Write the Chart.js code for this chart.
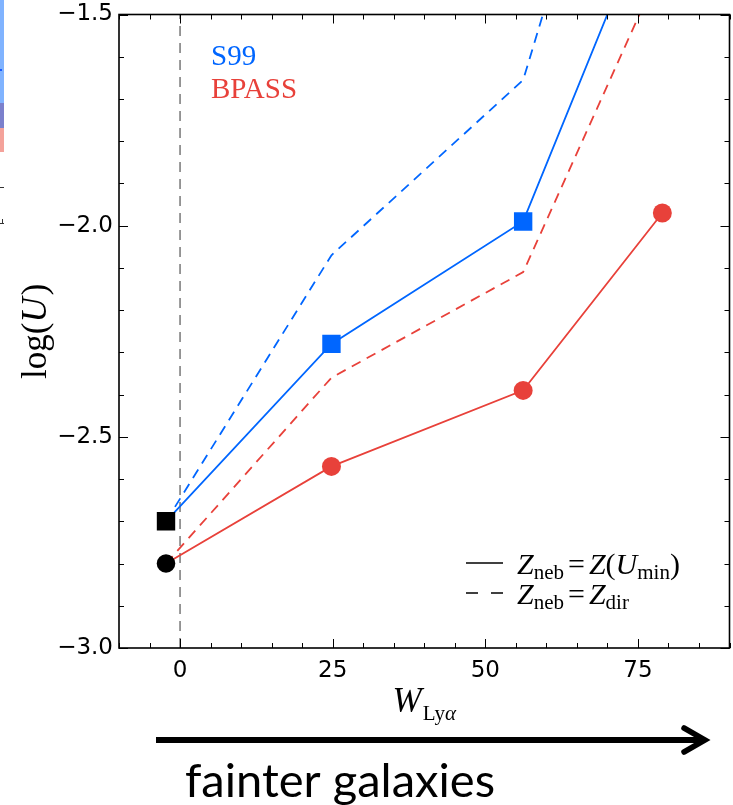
<!DOCTYPE html>
<html>
<head>
<meta charset="utf-8">
<script src="https://cdn.jsdelivr.net/npm/chart.js@4.4.1/dist/chart.umd.min.js"></script>
<style>
  html, body { margin: 0; padding: 0; background: #fff; }
  #wrap { position: relative; width: 733px; height: 805px; overflow: hidden; }
  .deco { position: absolute; }
</style>
</head>
<body>
<div id="wrap">
  <canvas id="c" width="733" height="805"></canvas>
  <!-- clipped neighbouring panel at the left edge -->
  <div class="deco" style="left:0;top:0;width:4px;height:103px;background:#80b3ff"></div>
  <div class="deco" style="left:0;top:69px;width:2px;height:2px;background:#1a5cff"></div>
  <div class="deco" style="left:0;top:103px;width:4px;height:25px;background:#7b80cc"></div>
  <div class="deco" style="left:0;top:128px;width:4px;height:24px;background:#f4a29a"></div>
  <div class="deco" style="left:0;top:187px;width:4px;height:1px;background:#333"></div>
  <div class="deco" style="left:0;top:223px;width:4px;height:1px;background:#333"></div>
  <div class="deco" style="left:2px;top:219px;width:1px;height:4px;background:#333"></div>
</div>
<script>
// ---------------- data ----------------
const xValues      = [-2.3, 24.8, 56.2, 79.0];      // W_Lya
const s99Solid     = [-2.70, -2.28, -1.99, -1.18];  // Z_neb = Z(U_min)
const s99Dashed    = [-2.70, -2.07, -1.655, -0.565];// Z_neb = Z_dir
const bpassSolid   = [-2.80, -2.57, -2.39, -1.97];
const bpassDashed  = [-2.80, -2.36, -2.11, -1.38];
const refX         = [-2.3];
const refS99       = [-2.70];
const refBpass     = [-2.80];
const zeroLineY    = [-3.0, -1.5];
const xTicks       = [0, 25, 50, 75];
const yTicks       = [-3.0, -2.5, -2.0, -1.5];
const xMinorStep   = 5;
const yMinorStep   = 0.1;
const xRange       = [-10, 90];
const yRange       = [-3.0, -1.5];

const BLUE = '#0066ff';
const RED  = '#e8413a';

const pts = (xs, ys) => xs.map((x, i) => ({x, y: ys[i]}));

const SERIF = '"Liberation Serif", "DejaVu Serif", serif';

function drawRuns(ctx, x, y, runs, measureOnly) {
  let cx = x;
  for (const r of runs) {
    ctx.font = (r.i ? 'italic ' : '') + r.s + 'px ' + SERIF;
    if (!measureOnly) ctx.fillText(r.t, cx + (r.pre || 0), y + (r.dy || 0));
    cx += (r.pre || 0) + ctx.measureText(r.t).width + (r.post || 0);
  }
  return cx - x;
}

const decorPlugin = {
  id: 'decor',
  afterDatasetsDraw(chart) {
    const {ctx, chartArea: a, scales} = chart;
    const xs = scales.x, ys = scales.y;
    ctx.save();
    // frame
    ctx.strokeStyle = '#000';
    ctx.lineWidth = 1.6;
    ctx.strokeRect(a.left, a.top, a.right - a.left, a.bottom - a.top);
    // ticks (inward, all four sides)
    ctx.lineWidth = 1;
    ctx.beginPath();
    const xMaj = new Set(xTicks.map(v => v.toFixed(3)));
    for (let v = Math.ceil(xRange[0] / xMinorStep) * xMinorStep; v <= xRange[1] + 1e-9; v += xMinorStep) {
      const px = Math.round(xs.getPixelForValue(v)) + 0.5;
      const len = xMaj.has(v.toFixed(3)) ? 9 : 5;
      ctx.moveTo(px, a.bottom); ctx.lineTo(px, a.bottom - len);
      ctx.moveTo(px, a.top); ctx.lineTo(px, a.top + len);
    }
    const yMaj = new Set(yTicks.map(v => v.toFixed(3)));
    for (let k = 0; ; k++) {
      const v = yRange[0] + k * yMinorStep;
      if (v > yRange[1] + 1e-9) break;
      const py = Math.round(ys.getPixelForValue(v)) + 0.5;
      const len = yMaj.has(v.toFixed(3)) ? 9 : 5;
      ctx.moveTo(a.left, py); ctx.lineTo(a.left + len, py);
      ctx.moveTo(a.right, py); ctx.lineTo(a.right - len, py);
    }
    ctx.stroke();

    // S99 / BPASS labels
    ctx.textBaseline = 'alphabetic';
    ctx.textAlign = 'left';
    ctx.font = '29px ' + SERIF;
    ctx.fillStyle = BLUE;
    ctx.fillText('S99', 211, 65);
    ctx.fillStyle = RED;
    ctx.fillText('BPASS', 211, 98);

    // line-style legend
    ctx.strokeStyle = '#000';
    ctx.lineWidth = 1.6;
    ctx.beginPath();
    ctx.moveTo(466, 563); ctx.lineTo(503, 563);
    ctx.stroke();
    ctx.beginPath();
    ctx.setLineDash([12, 13]);
    ctx.moveTo(466, 593); ctx.lineTo(503, 593);
    ctx.stroke();
    ctx.setLineDash([]);
    ctx.fillStyle = '#000';
    drawRuns(ctx, 517, 574, [
      {t: 'Z', i: 1, s: 30}, {t: 'neb', s: 21, dy: 5},
      {t: '=', s: 30, pre: 4, post: 4},
      {t: 'Z', i: 1, s: 30}, {t: '(', s: 30}, {t: 'U', i: 1, s: 30},
      {t: 'min', s: 21, dy: 5}, {t: ')', s: 30}
    ]);
    drawRuns(ctx, 517, 604, [
      {t: 'Z', i: 1, s: 30}, {t: 'neb', s: 21, dy: 5},
      {t: '=', s: 30, pre: 4, post: 4},
      {t: 'Z', i: 1, s: 30}, {t: 'dir', s: 21, dy: 5}
    ]);

    // x-axis title
    const xRuns = [{t: 'W', i: 1, s: 35}, {t: 'Ly', s: 21, dy: 8, pre: 1}, {t: 'α', i: 1, s: 21, dy: 8}];
    const xcx = (a.left + a.right) / 2;
    const w = drawRuns(ctx, 0, 0, xRuns, true);
    drawRuns(ctx, xcx - w / 2, 712, xRuns);

    // y-axis title
    const yRunsArr = [{t: 'log', s: 35}, {t: '(', s: 35}, {t: 'U', i: 1, s: 35, post: 2}, {t: ')', s: 35}];
    const wy = drawRuns(ctx, 0, 0, yRunsArr, true);
    ctx.save();
    ctx.translate(46, (a.top + a.bottom) / 2);
    ctx.rotate(-Math.PI / 2);
    drawRuns(ctx, -wy / 2, 0, yRunsArr);
    ctx.restore();

    // arrow
    ctx.strokeStyle = '#000';
    ctx.lineWidth = 6;
    ctx.lineCap = 'butt';
    ctx.beginPath();
    ctx.moveTo(156, 740); ctx.lineTo(704, 740);
    ctx.stroke();
    ctx.lineCap = 'round';
    ctx.lineJoin = 'miter';
    ctx.lineWidth = 5.5;
    ctx.beginPath();
    ctx.moveTo(684, 728); ctx.lineTo(705, 740); ctx.lineTo(684, 752);
    ctx.stroke();

    // caption
    ctx.fillStyle = '#000';
    ctx.font = '46px Lato, "Open Sans", sans-serif';
    const tw = ctx.measureText('fainter galaxies').width;
    ctx.save();
    ctx.translate(185, 797);
    ctx.scale(310 / tw, 1);
    ctx.fillText('fainter galaxies', 0, 0);
    ctx.restore();

    ctx.restore();
  }
};

Chart.defaults.font.family = '"DejaVu Sans", sans-serif';
Chart.defaults.color = '#000';

new Chart(document.getElementById('c'), {
  type: 'scatter',
  data: {
    datasets: [
      { label: 'ref S99', data: pts(refX, refS99), pointStyle: 'rect', pointRadius: 13,
        backgroundColor: '#000', borderColor: '#000', borderWidth: 0, showLine: false },
      { label: 'ref BPASS', data: pts(refX, refBpass), pointStyle: 'circle', pointRadius: 9.3,
        backgroundColor: '#000', borderColor: '#000', borderWidth: 0, showLine: false },
      { label: 'S99 solid', data: pts(xValues, s99Solid), showLine: true, borderColor: BLUE,
        backgroundColor: BLUE, borderWidth: 1.8, pointStyle: 'rect',
        pointRadius: [0, 13, 13, 13], pointBorderWidth: 0, clip: 0 },
      { label: 'BPASS solid', data: pts(xValues, bpassSolid), showLine: true, borderColor: RED,
        backgroundColor: RED, borderWidth: 1.8, pointStyle: 'circle',
        pointRadius: [0, 9.5, 9.5, 9.5], pointBorderWidth: 0, clip: 0 },
      { label: 'S99 dashed', data: pts(xValues, s99Dashed), showLine: true, borderColor: BLUE,
        borderWidth: 1.8, borderDash: [10, 7], pointRadius: 0, clip: 0 },
      { label: 'BPASS dashed', data: pts(xValues, bpassDashed), showLine: true, borderColor: RED,
        borderWidth: 1.8, borderDash: [10, 7], pointRadius: 0, clip: 0 },
      { label: 'zero', data: pts([0, 0], zeroLineY), showLine: true, borderColor: '#7f7f7f',
        borderWidth: 1.6, borderDash: [10, 7], pointRadius: 0, clip: 0 }
    ]
  },
  options: {
    responsive: false,
    animation: false,
    events: [],
    layout: { autoPadding: false, padding: { left: 0, right: 3.5, top: 14.5, bottom: 117 } },
    plugins: { legend: { display: false }, tooltip: { enabled: false } },
    scales: {
      x: {
        type: 'linear', min: xRange[0], max: xRange[1],
        grid: { display: false, drawTicks: false },
        border: { display: false },
        afterBuildTicks: s => { s.ticks = xTicks.map(v => ({value: v})); },
        afterFit: s => { s.height = 40; s.paddingLeft = 0; s.paddingRight = 0; },
        ticks: { font: { size: 23 }, padding: 9, maxRotation: 0,
          callback: v => String(v) }
      },
      y: {
        type: 'linear', min: yRange[0], max: yRange[1],
        grid: { display: false, drawTicks: false },
        border: { display: false },
        afterBuildTicks: s => { s.ticks = yTicks.map(v => ({value: v})); },
        afterFit: s => { s.width = 119; s.paddingTop = 0; s.paddingBottom = 0; },
        ticks: { font: { size: 23 }, padding: 6,
          callback: v => (v < 0 ? '\u2212' : '') + Math.abs(v).toFixed(1) }
      }
    }
  },
  plugins: [decorPlugin]
});
</script>
</body>
</html>
